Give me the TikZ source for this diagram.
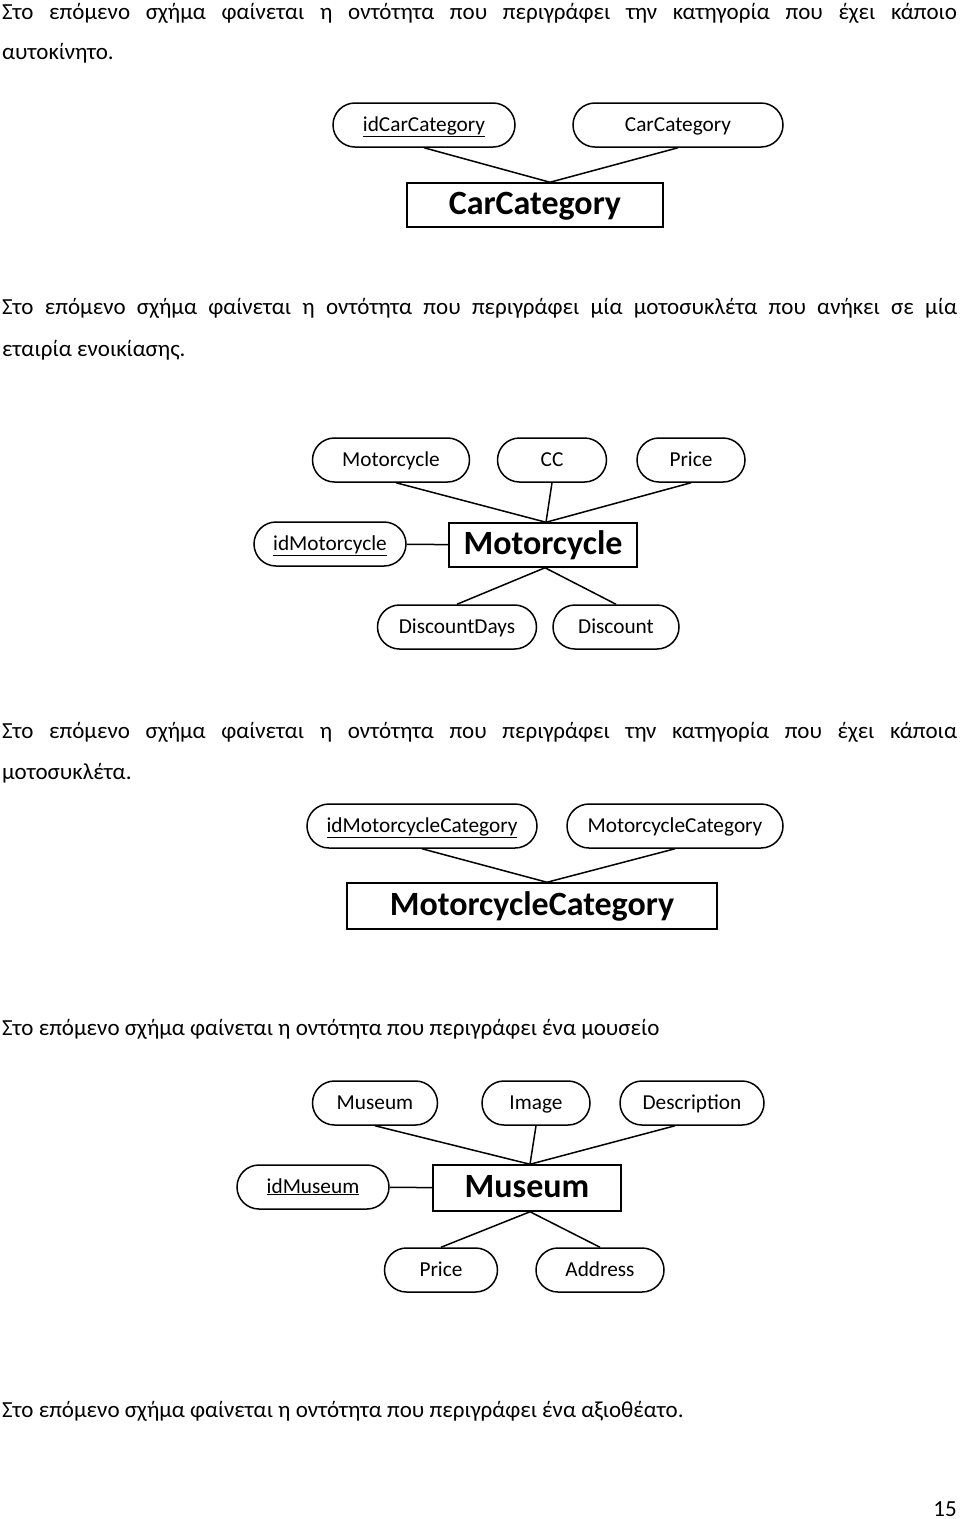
\documentclass[tikz,border=0pt]{standalone}
\usepackage{fontspec}
\setmainfont{Carlito}
\usetikzlibrary{calc}

\begin{document}
\begin{tikzpicture}[
    x=1pt, y=-1pt,
    body/.style={anchor=base west, inner sep=0pt, font=\fontsize{23}{27}\selectfont},
    attr/.style={draw, rounded corners=22pt, minimum height=44pt, inner sep=0pt,
                 text height=15pt, text depth=3pt,
                 line width=1.5pt, font=\fontsize{21.3}{25}\selectfont},
    entity/.style={draw, rectangle, minimum height=45pt, inner sep=0pt,
                   text height=22pt, text depth=4pt,
                   line width=1.5pt, font=\fontsize{34}{40}\selectfont\bfseries},
    link/.style={line width=1.5pt}
]
\useasboundingbox (0,0) rectangle (960,1519);

% Text of the page
\node[body] (t1) at (2,19) {\makebox[955pt][s]{Στο επόμενο σχήμα φαίνεται η οντότητα που περιγράφει την κατηγορία που έχει κάποιο}};
\node[body] (t2) at (2,59) {αυτοκίνητο.};
\node[body] (t3) at (2,314) {\makebox[955pt][s]{Στο επόμενο σχήμα φαίνεται η οντότητα που περιγράφει μία μοτοσυκλέτα που ανήκει σε μία}};
\node[body] (t4) at (2,356) {εταιρία ενοικίασης.};
\node[body] (t5) at (2,738) {\makebox[955pt][s]{Στο επόμενο σχήμα φαίνεται η οντότητα που περιγράφει την κατηγορία που έχει κάποια}};
\node[body] (t6) at (2,779) {μοτοσυκλέτα.};
\node[body] (t7) at (2,1035) {Στο επόμενο σχήμα φαίνεται η οντότητα που περιγράφει ένα μουσείο};
\node[body] (t8) at (2,1417) {Στο επόμενο σχήμα φαίνεται η οντότητα που περιγράφει ένα αξιοθέατο.};
\node[body, anchor=base east] (page) at (957,1516) {15};

% CarCategory
\node[attr, minimum width=182pt] (idcc) at (424,125) {\underline{idCarCategory}};
\node[attr, minimum width=210pt] (ccname) at (678,125) {CarCategory};
\node[entity, minimum width=256pt, minimum height=44pt] (cc) at (535,205) {CarCategory};
\draw[link] (idcc.south) -- ($(cc.north)+(15,0)$);
\draw[link] (ccname.south) -- ($(cc.north)+(15,0)$);

% Motorcycle
\node[attr, minimum width=157pt] (mname) at (391,460) {Motorcycle};
\node[attr, minimum width=109pt] (mcc) at (552,460) {CC};
\node[attr, minimum width=108pt] (mprice) at (691,460) {Price};
\node[attr, minimum width=152pt] (idm) at (330,544) {\underline{idMotorcycle}};
\node[entity, minimum width=188pt, minimum height=44pt] (moto) at (543,545) {Motorcycle};
\node[attr, minimum width=159pt] (mdays) at (457,627) {DiscountDays};
\node[attr, minimum width=126pt] (mdisc) at (616,627) {Discount};
\draw[link] ($(mname.south)+(5,0)$) -- ($(moto.north)+(3,0)$);
\draw[link] (mcc.south) -- ($(moto.north)+(3,0)$);
\draw[link] (mprice.south) -- ($(moto.north)+(3,0)$);
\draw[link] (idm) -- (moto);
\draw[link] ($(moto.south)+(2,0)$) -- (mdays.north);
\draw[link] ($(moto.south)+(2,0)$) -- (mdisc.north);

% MotorcycleCategory
\node[attr, minimum width=230pt] (idmc) at (422,826) {\underline{idMotorcycleCategory}};
\node[attr, minimum width=216pt] (mcname) at (675,826) {MotorcycleCategory};
\node[entity, minimum width=370pt, minimum height=46pt] (mc) at (532,906) {MotorcycleCategory};
\draw[link] (idmc.south) -- ($(mc.north)+(15,0)$);
\draw[link] (mcname.south) -- ($(mc.north)+(15,0)$);

% Museum
\node[attr, minimum width=125pt] (musname) at (375,1103) {Museum};
\node[attr, minimum width=108pt] (musimg) at (536,1103) {Image};
\node[attr, minimum width=144pt] (musdesc) at (692,1103) {Description};
\node[attr, minimum width=152pt] (idmus) at (313,1187) {\underline{idMuseum}};
\node[entity, minimum width=188pt, minimum height=46pt] (mus) at (527,1188) {Museum};
\node[attr, minimum width=113pt] (musprice) at (441,1270) {Price};
\node[attr, minimum width=128pt] (musaddr) at (600,1270) {Address};
\draw[link] (musname.south) -- ($(mus.north)+(3,0)$);
\draw[link] (musimg.south) -- ($(mus.north)+(3,0)$);
\draw[link] ($(musdesc.south)+(-17,0)$) -- ($(mus.north)+(3,0)$);
\draw[link] (idmus) -- (mus);
\draw[link] ($(mus.south)+(3,0)$) -- (musprice.north);
\draw[link] ($(mus.south)+(3,0)$) -- (musaddr.north);

\end{tikzpicture}
\end{document}
